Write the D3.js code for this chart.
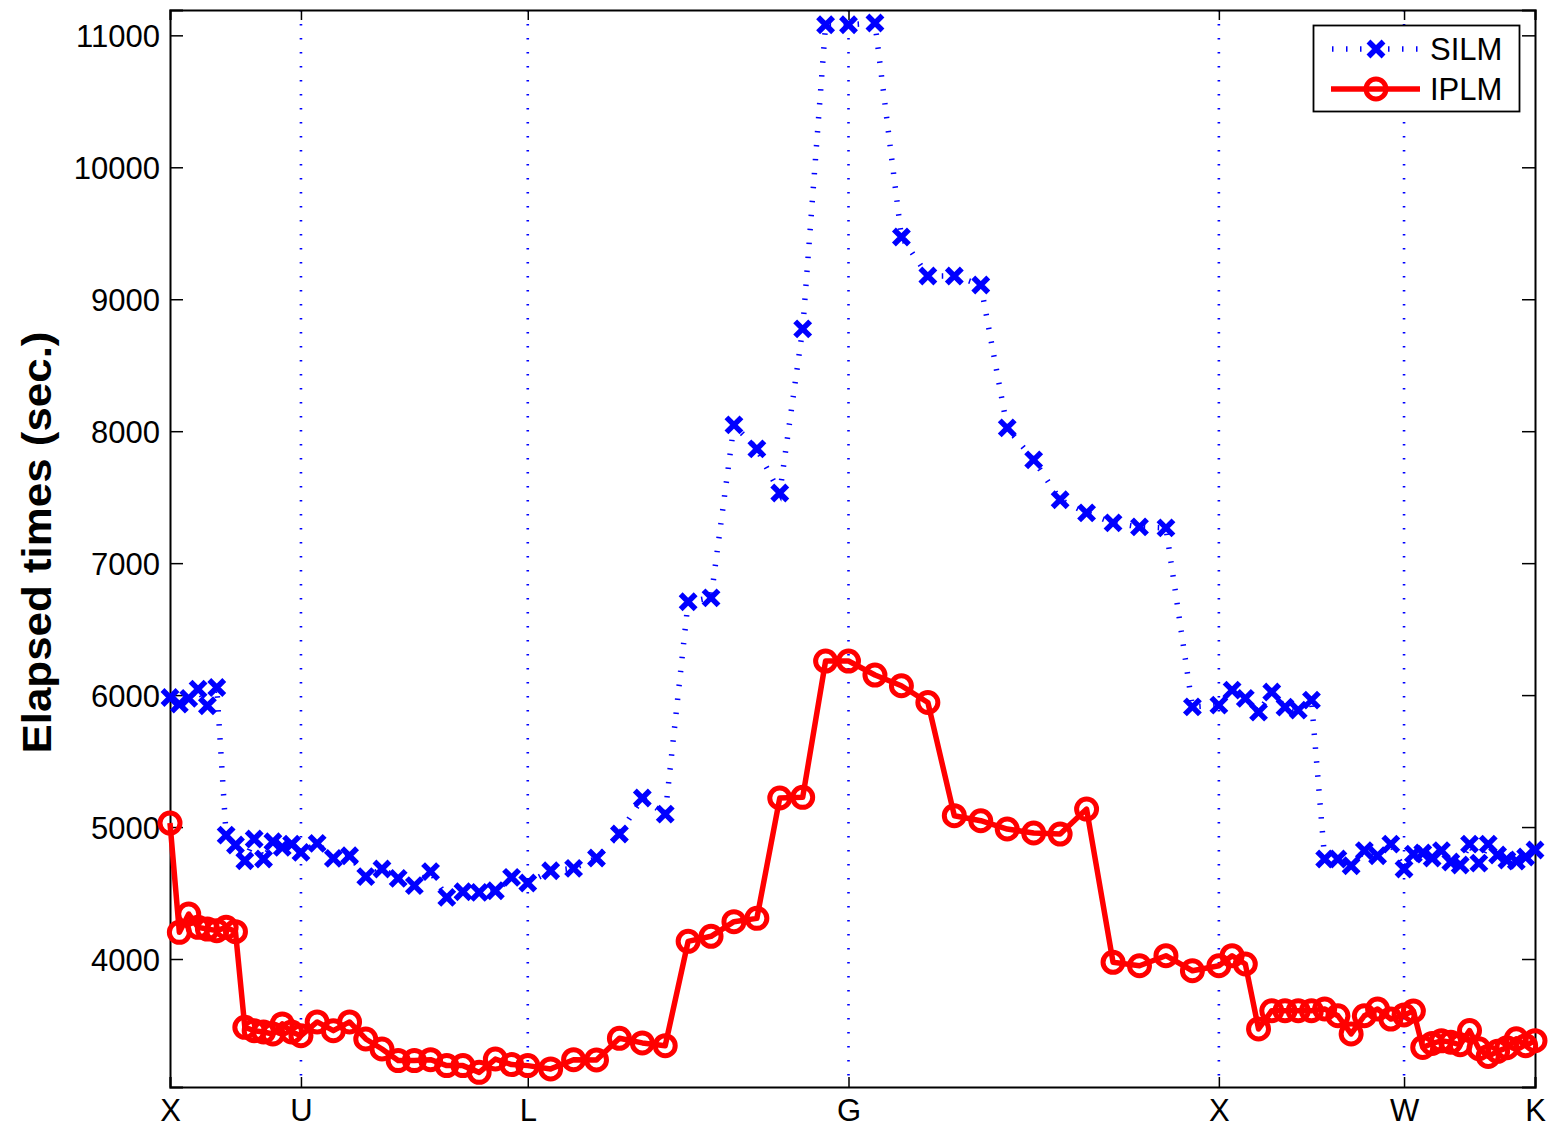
<!DOCTYPE html>
<html>
<head>
<meta charset="utf-8">
<script src="https://cdn.jsdelivr.net/npm/d3@7"></script>
<style>
  html, body { margin: 0; padding: 0; background: #fff; }
  svg { display: block; font-family: "Liberation Sans", Arial, Helvetica, sans-serif; }
</style>
</head>
<body>
<svg id="chart" width="1550" height="1129"></svg>
<script>
// High-symmetry points along the k-path and the length of each leg (units of 2π/a)
const pathLabels = ["X", "U", "L", "G", "X", "W", "K"];
const legLengths = [0.3536, 0.6124, 0.8660, 1.0000, 0.5000, 0.3536];
const stepsPerLeg = 14;

// Elapsed times (sec.) at each k-point
const silm = [
  5982, 5932, 5975, 6045, 5919, 6058, 4939, 4864, 4745, 4909, 4758, 4889, 4846, 4871, 4808,
  4876, 4763, 4783, 4624, 4682, 4611, 4556, 4662, 4467, 4510, 4505, 4517, 4619, 4576,
  4669, 4687, 4765, 4947, 5220, 5098, 6707, 6737, 8048, 7866, 7532, 8775, 11080, 11080,
  11093, 9472, 9176, 9176, 9108, 8025, 7783, 7480, 7381, 7305, 7275, 7267, 5911, 5924,
  6038, 5975, 5871, 6023, 5909, 5886, 5962, 4758, 4758, 4707, 4821, 4783, 4871, 4682,
  4795, 4803, 4765, 4821, 4735, 4712, 4871, 4727, 4871, 4788, 4750, 4742, 4773, 4826
];
const iplm = [
  5030, 4202, 4341, 4240, 4227, 4215, 4240, 4207, 3482, 3457, 3447, 3432, 3508, 3447, 3419,
  3523, 3457, 3523, 3394, 3318, 3230, 3230, 3237, 3192, 3192, 3141, 3242, 3200, 3192,
  3167, 3237, 3235, 3399, 3364, 3343, 4134, 4172, 4283, 4308, 5220, 5225, 6258, 6258,
  6152, 6071, 5944, 5086, 5048, 4985, 4955, 4947, 5136, 3975, 3949, 4025, 3911, 3949,
  4025, 3962, 3470, 3608, 3608, 3608, 3608, 3621, 3570, 3432, 3570, 3621, 3545, 3576,
  3606, 3330, 3360, 3380, 3370, 3350, 3458, 3320, 3262, 3300, 3328, 3395, 3343, 3381
];
const yTicks = [4000, 5000, 6000, 7000, 8000, 9000, 10000, 11000];
const yLabel = "Elapsed times (sec.)";
const seriesNames = ["SILM", "IPLM"];

// cumulative distance of every high-symmetry point and of every sampled k-point
const nodeDist = [0];
legLengths.forEach(l => nodeDist.push(nodeDist[nodeDist.length - 1] + l));
const kDist = [0];
legLengths.forEach((l, i) => {
  for (let s = 1; s <= stepsPerLeg; s++) kDist.push(nodeDist[i] + l * s / stepsPerLeg);
});

const svg = d3.select("#chart");
const plotLeft = 170, plotRight = 1535, plotTop = 10, plotBottom = 1087;

const x = d3.scaleLinear().domain([0, nodeDist[nodeDist.length - 1]]).range([plotLeft, plotRight]);
const y = d3.scaleLinear().domain([3030, 11192]).range([plotBottom, plotTop]);

const fontSize = 31;
const blue = "#0000ff", red = "#ff0000";
const crossR = 7.5, crossW = 5.5, circR = 10, circW = 5;

// vertical dotted guides at the interior high-symmetry points
svg.append("g").selectAll("line")
  .data(nodeDist.slice(1, -1))
  .join("line")
  .attr("x1", d => x(d)).attr("x2", d => x(d))
  .attr("y1", plotTop).attr("y2", plotBottom)
  .attr("stroke", blue).attr("stroke-width", 2.6)
  .attr("stroke-dasharray", "1.4 12.6");

// axes: inward ticks on all four sides
const axL = svg.append("g").attr("transform", `translate(${plotLeft},0)`)
  .call(d3.axisLeft(y).tickValues(yTicks).tickSize(-13).tickPadding(10).tickFormat(d3.format("d")));
const axR = svg.append("g").attr("transform", `translate(${plotRight},0)`)
  .call(d3.axisRight(y).tickValues(yTicks).tickSize(-13).tickFormat(""));
const axB = svg.append("g").attr("transform", `translate(0,${plotBottom})`)
  .call(d3.axisBottom(x).tickValues(nodeDist).tickSize(-10).tickPadding(15)
    .tickFormat((d, i) => pathLabels[i]));
const axT = svg.append("g").attr("transform", `translate(0,${plotTop})`)
  .call(d3.axisTop(x).tickValues(nodeDist).tickSize(-10).tickFormat(""));

[axL, axR, axB, axT].forEach(g => {
  g.selectAll(".domain").attr("stroke", "#000").attr("stroke-width", 2);
  g.selectAll(".tick line").attr("stroke", "#000").attr("stroke-width", 1.5);
  g.selectAll("text").attr("fill", "#000").style("font-size", fontSize + "px")
    .style("font-family", "'Liberation Sans', Arial, sans-serif");
});
axL.selectAll("text").attr("dy", "0.36em");
axB.selectAll("text").attr("dy", "0.6em");

// y-axis title
svg.append("text")
  .attr("transform", `translate(51,${(plotTop + plotBottom) / 2 - 6}) rotate(-90)`)
  .attr("text-anchor", "middle")
  .attr("font-weight", "bold")
  .attr("font-size", 41)
  .attr("textLength", 422)
  .attr("lengthAdjust", "spacingAndGlyphs")
  .text(yLabel);

const line = d3.line().x((d, i) => x(kDist[i])).y(d => y(d));

// SILM: dotted line with bold x markers
svg.append("path").datum(silm)
  .attr("d", line).attr("fill", "none")
  .attr("stroke", blue).attr("stroke-width", 5.5)
  .attr("stroke-dasharray", "1.5 12.5");

const crossPath = (cx, cy, r) => `M${cx - r},${cy - r}L${cx + r},${cy + r}M${cx - r},${cy + r}L${cx + r},${cy - r}`;
svg.append("g").selectAll("path")
  .data(silm)
  .join("path")
  .attr("d", (d, i) => crossPath(x(kDist[i]), y(d), crossR))
  .attr("stroke", blue).attr("stroke-width", crossW).attr("fill", "none");

// IPLM: solid line with open circles
svg.append("path").datum(iplm)
  .attr("d", line).attr("fill", "none")
  .attr("stroke", red).attr("stroke-width", 5.5)
  .attr("stroke-linejoin", "round");

svg.append("g").selectAll("circle")
  .data(iplm)
  .join("circle")
  .attr("cx", (d, i) => x(kDist[i])).attr("cy", d => y(d))
  .attr("r", circR).attr("fill", "none")
  .attr("stroke", red).attr("stroke-width", circW);

// legend
const lg = svg.append("g");
lg.append("rect").attr("x", 1313.5).attr("y", 25.5).attr("width", 206).attr("height", 86)
  .attr("fill", "#fff").attr("stroke", "#000").attr("stroke-width", 1.8);
const rows = [49, 89];
lg.append("line").attr("x1", 1331).attr("x2", 1420).attr("y1", rows[0]).attr("y2", rows[0])
  .attr("stroke", blue).attr("stroke-width", 5.5).attr("stroke-dasharray", "1.5 12.5")
  .attr("stroke-dashoffset", -1);
lg.append("path").attr("d", crossPath(1376, rows[0], crossR))
  .attr("stroke", blue).attr("stroke-width", crossW).attr("fill", "none");
lg.append("line").attr("x1", 1331).attr("x2", 1420).attr("y1", rows[1]).attr("y2", rows[1])
  .attr("stroke", red).attr("stroke-width", 5.5);
lg.append("circle").attr("cx", 1376).attr("cy", rows[1]).attr("r", circR)
  .attr("fill", "none").attr("stroke", red).attr("stroke-width", circW);
lg.selectAll("text.lbl").data(seriesNames).join("text")
  .attr("class", "lbl")
  .attr("x", 1430).attr("y", (d, i) => rows[i])
  .attr("dy", "0.36em")
  .attr("font-size", fontSize)
  .text(d => d);
</script>
</body>
</html>
